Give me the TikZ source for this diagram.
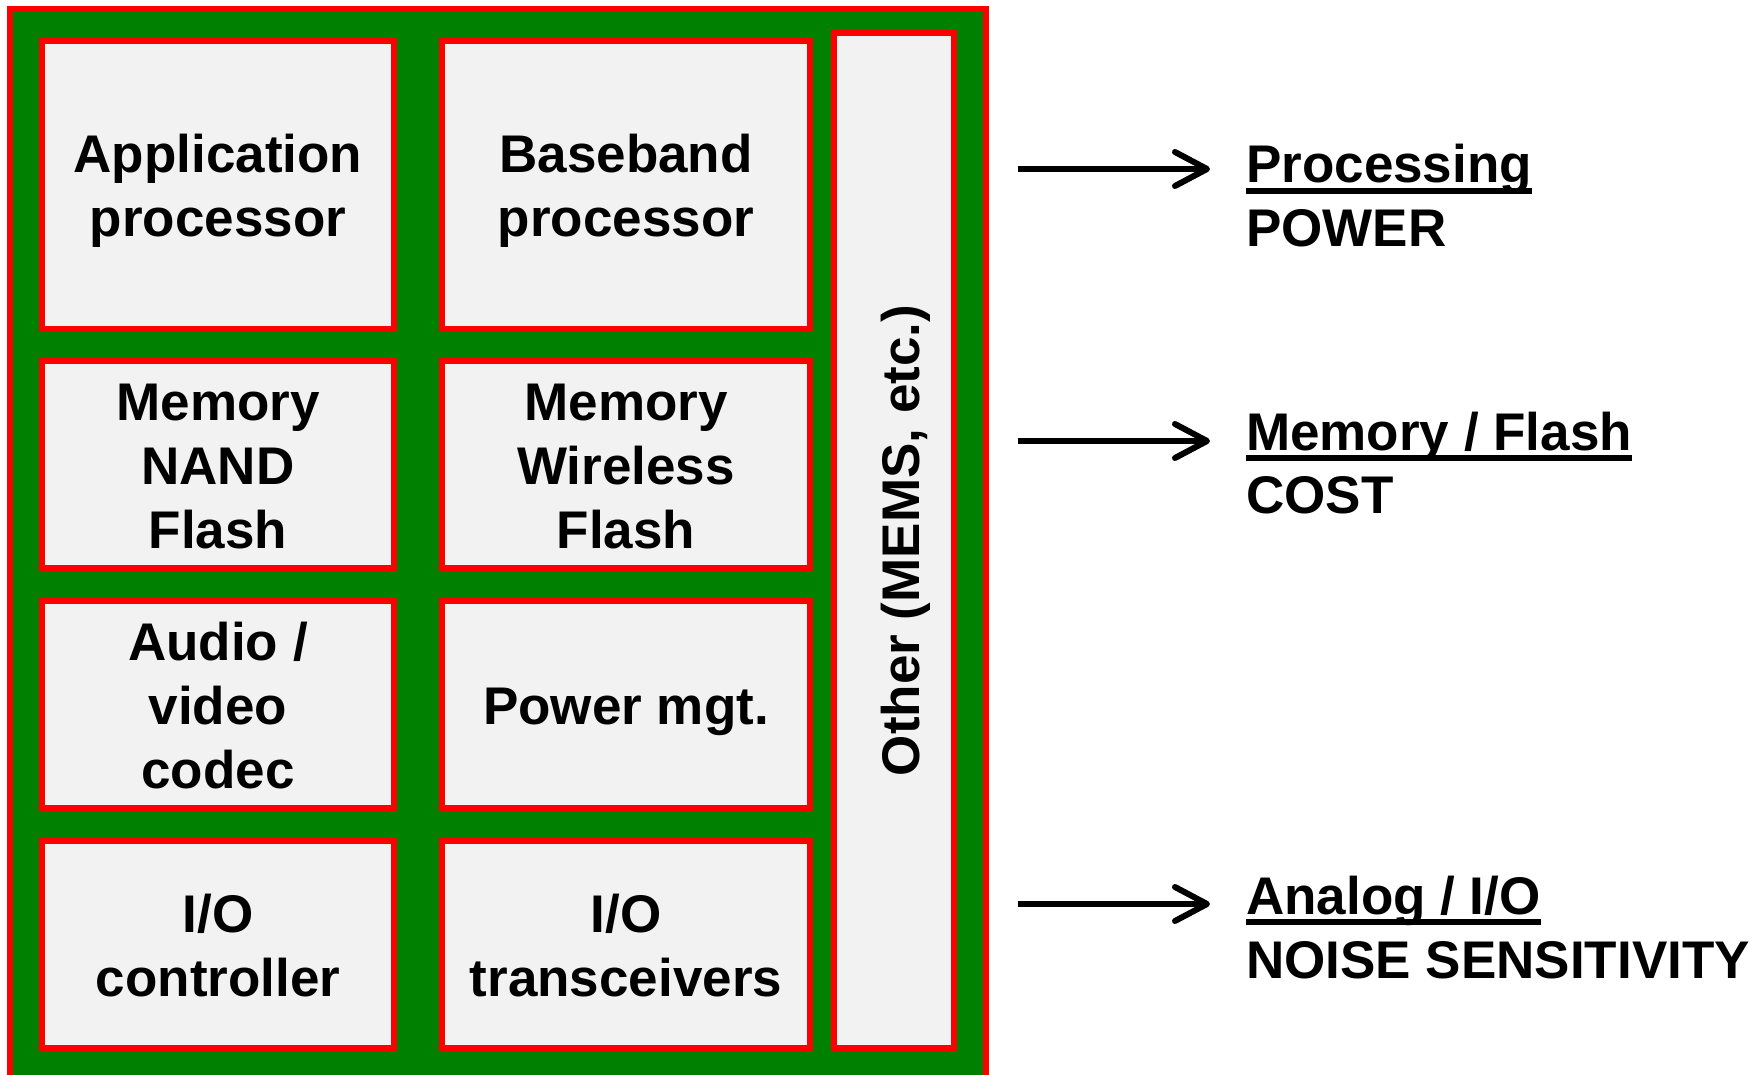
\documentclass[tikz,border=0pt]{standalone}
\usepackage{fontspec}
\setmainfont{Liberation Sans}
\usetikzlibrary{arrows.meta}

\definecolor{boardgreen}{HTML}{008000}
\definecolor{edgered}{HTML}{FF0000}
\definecolor{chipgrey}{HTML}{F2F2F2}

% one block of centred lines whose baseline is the first line
\newcommand\chiplines[1]{\begin{tabular}[t]{@{}c@{}}#1\end{tabular}}

\tikzset{
  chip/.style={draw=edgered, line width=6pt, fill=chipgrey, inner sep=0pt},
  chiptext/.style={font=\fontsize{53}{64}\selectfont\bfseries, inner sep=0pt, anchor=base},
  sidetext/.style={font=\fontsize{53}{64}\selectfont\bfseries, inner sep=0pt, anchor=base west},
  uline/.style={line width=5.5pt},
  pointer/.style={line width=6pt, -{Straight Barb[length=32pt, width=34pt, round]}},
}

\begin{document}
\begin{tikzpicture}[x=1pt, y=-1pt]
  \useasboundingbox (0,0) rectangle (1756,1075);
  \fill[white] (0,0) rectangle (1756,1075);
  \clip (0,0) rectangle (1756,1075);

  % board
  \draw[edgered, line width=6pt, fill=boardgreen] (10,9) rectangle (986,1095);

  % chips: column 1
  \node[chip, minimum width=352, minimum height=288] (app)   at (218,185)   {};
  \node[chip, minimum width=352, minimum height=207] (nand)  at (218,464.5) {};
  \node[chip, minimum width=352, minimum height=207] (codec) at (218,704.5) {};
  \node[chip, minimum width=352, minimum height=207] (ioc)   at (218,944.5) {};
  % chips: column 2
  \node[chip, minimum width=368, minimum height=288] (bb)    at (626,185)   {};
  \node[chip, minimum width=368, minimum height=207] (wfl)   at (626,464.5) {};
  \node[chip, minimum width=368, minimum height=207] (pwr)   at (626,704.5) {};
  \node[chip, minimum width=368, minimum height=207] (iot)   at (626,944.5) {};
  % tall chip on the right
  \node[chip, minimum width=120, minimum height=1015] (other) at (894,540.5) {};

  % chip labels
  \node[chiptext] (appT)   at ([yshift=12pt]app.center)   {\chiplines{Application\\processor}};
  \node[chiptext] (nandT)  at ([yshift=44pt]nand.center)  {\chiplines{Memory\\NAND\\Flash}};
  \node[chiptext] (codecT) at ([yshift=44pt]codec.center) {\chiplines{Audio /\\video\\codec}};
  \node[chiptext] (iocT)   at ([yshift=12pt]ioc.center)   {\chiplines{I/O\\controller}};
  \node[chiptext] (bbT)    at ([yshift=12pt]bb.center)    {\chiplines{Baseband\\processor}};
  \node[chiptext] (wflT)   at ([yshift=44pt]wfl.center)   {\chiplines{Memory\\Wireless\\Flash}};
  \node[chiptext] (pwrT)   at ([yshift=-20pt]pwr.center)  {Power mgt.};
  \node[chiptext] (iotT)   at ([yshift=12pt]iot.center)   {\chiplines{I/O\\transceivers}};
  \node[chiptext, rotate=90] (otherT) at (919,540.5) {Other (MEMS, etc.)};

  % side notes
  \node[sidetext] (proc)  at (1246,183) {Processing};
  \node[sidetext] (power) at (1246,247) {POWER};
  \node[sidetext] (mem)   at (1246,450) {Memory / Flash};
  \node[sidetext] (cost)  at (1246,513) {COST};
  \node[sidetext] (ana)   at (1246,914) {Analog / I/O};
  \node[sidetext] (noise) at (1246,978) {NOISE SENSITIVITY};

  \draw[uline] ([yshift=-8pt]proc.base west) -- ([yshift=-8pt]proc.base east);
  \draw[uline] ([yshift=-8pt]mem.base west)  -- ([yshift=-8pt]mem.base east);
  \draw[uline] ([yshift=-8pt]ana.base west)  -- ([yshift=-8pt]ana.base east);

  % arrows
  \coordinate (p1) at (1018,169);
  \coordinate (q1) at (1210,169);
  \coordinate (p2) at (1018,441);
  \coordinate (q2) at (1210,441);
  \coordinate (p3) at (1018,904);
  \coordinate (q3) at (1210,904);
  \draw[pointer] (p1) -- (q1);
  \draw[pointer] (p2) -- (q2);
  \draw[pointer] (p3) -- (q3);
\end{tikzpicture}
\end{document}
